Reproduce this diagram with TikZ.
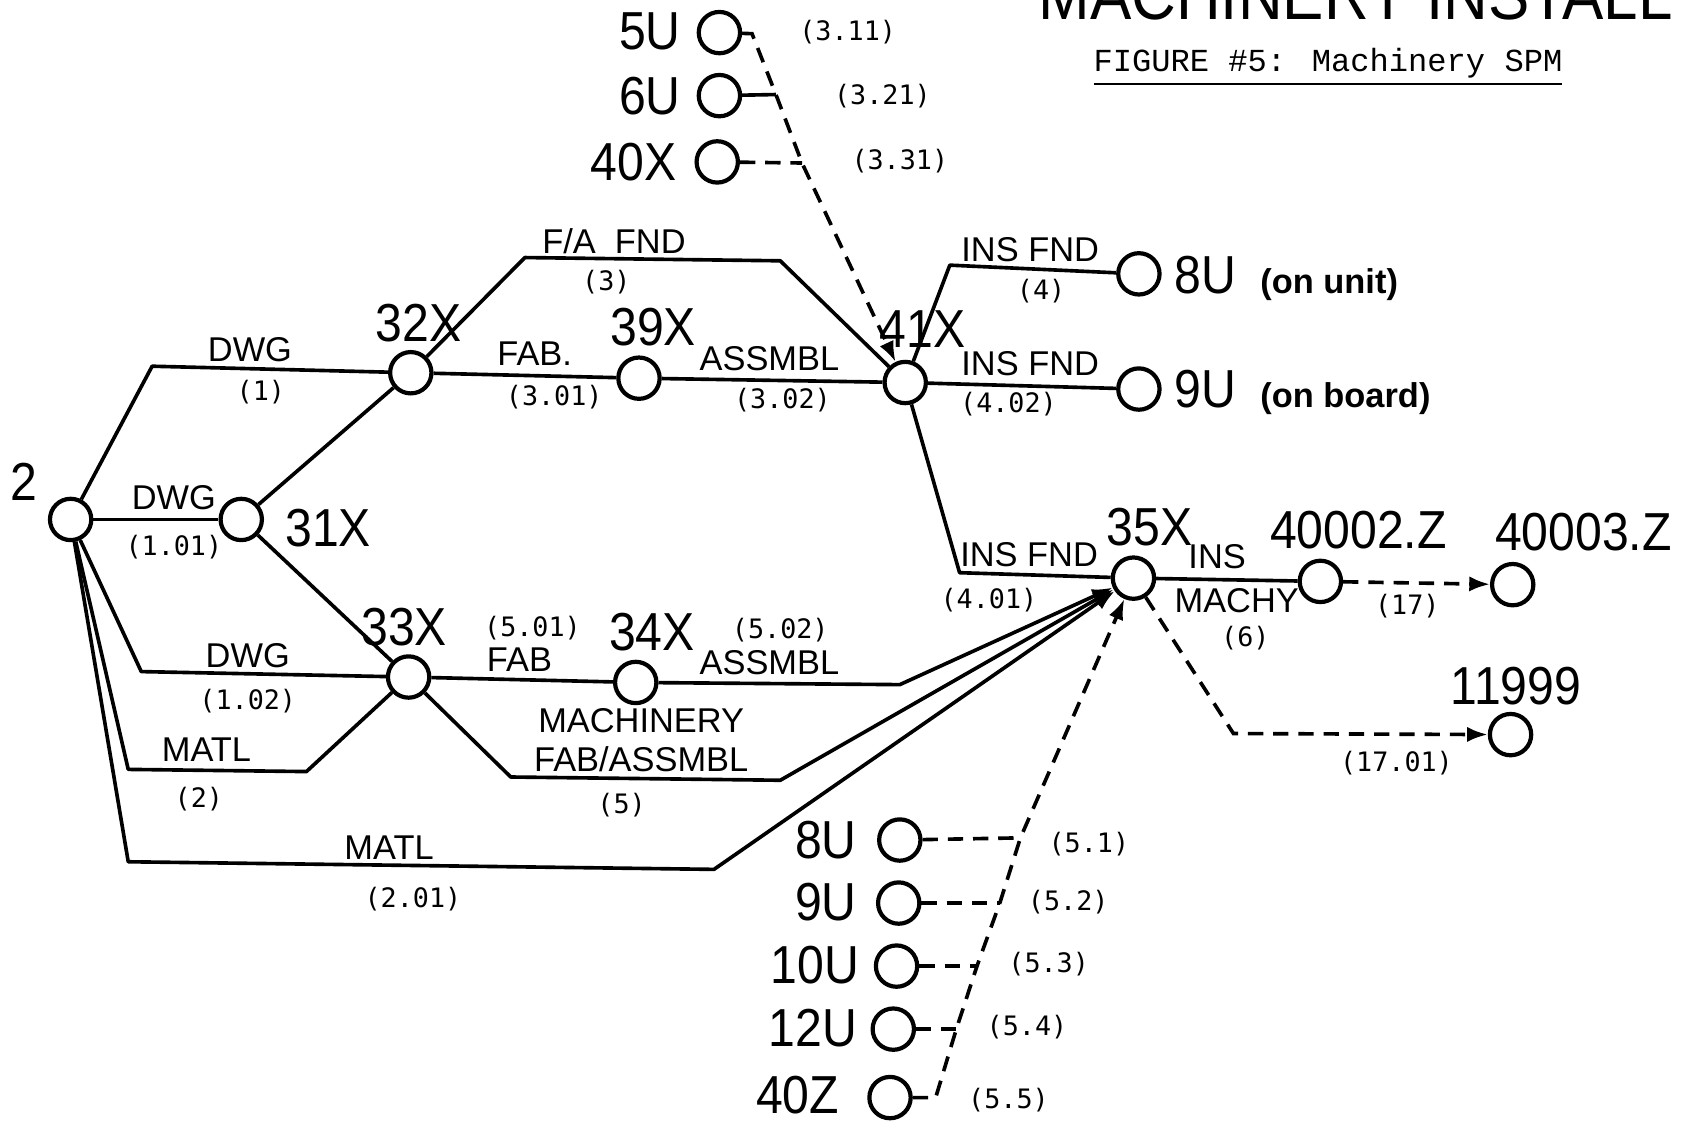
\documentclass[tikz,border=0pt]{standalone}
\usepackage{fontspec}
\setsansfont{Liberation Sans}
\newfontfamily\lettering[FakeStretch=0.9]{Liberation Sans}
\newfontfamily\typer{DejaVu Sans Mono}
\newfontfamily\titlefont{Liberation Mono}
\usetikzlibrary{arrows.meta}

\begin{document}
\begin{tikzpicture}[x=0.01cm, y=-0.01cm,
  event/.style={circle, draw, line width=1.1pt, minimum size=0.38cm, inner sep=0pt},
  act/.style={draw, line width=0.95pt, line join=round},
  dummy/.style={draw, line width=0.95pt, dash pattern=on 4pt off 2.6pt},
  tip/.style={-{Latex[length=1.9mm,width=1.4mm]}},
  big/.style={font=\lettering\fontsize{14}{14}\selectfont, inner sep=0pt},
  word/.style={font=\sffamily\fontsize{9}{9}\selectfont, inner sep=0pt},
  note/.style={font=\sffamily\bfseries\fontsize{9}{9}\selectfont, inner sep=0pt},
  num/.style={font=\typer\fontsize{7}{7}\selectfont, inner sep=0pt}
]
  \useasboundingbox (0,0) rectangle (1568,1031);

  % events
  \node[event] (n2) at (65,478) {};
  \node[event] (n31) at (222,478) {};
  \node[event] (n32) at (378,343) {};
  \node[event] (n39) at (588,348) {};
  \node[event] (n41) at (833,352) {};
  \node[event] (n33) at (376,623) {};
  \node[event] (n34) at (585,628) {};
  \node[event] (n35) at (1043,532) {};
  \node[event] (n8a) at (1048,252) {};
  \node[event] (n9a) at (1048,358) {};
  \node[event] (n40002) at (1215,535) {};
  \node[event] (n40003) at (1392,538) {};
  \node[event] (n11999) at (1390,676) {};
  \node[event] (n5U) at (662,30) {};
  \node[event] (n6U) at (662,88) {};
  \node[event] (n40X) at (660,149) {};
  \node[event] (n8U) at (828,773) {};
  \node[event] (n9U) at (827,831) {};
  \node[event] (n10U) at (825,889) {};
  \node[event] (n12U) at (822,947) {};
  \node[event] (n40Z) at (819,1010) {};

  % event numbers
  \node[big] (t2) at (22,443) {2};
  \node[big] (t31) at (302,486) {31X};
  \node[big] (t32) at (385,297) {32X};
  \node[big] (t39) at (601,301) {39X};
  \node[big] (t41) at (849,303) {41X};
  \node[big] (t33) at (372,577) {33X};
  \node[big] (t34) at (600,582) {34X};
  \node[big] (t35) at (1058,485) {35X};
  \node[big] (t40002) at (1250,488) {40002.Z};
  \node[big] (t40003) at (1457,490) {40003.Z};
  \node[big] (t11999) at (1395,631) {11999};
  \node[big] (t5U) at (598,29) {5U};
  \node[big] (t6U) at (598,88) {6U};
  \node[big] (t40X) at (583,149) {40X};
  \node[big] (t8U) at (760,773) {8U};
  \node[big] (t9U) at (760,830) {9U};
  \node[big] (t10U) at (750,888) {10U};
  \node[big] (t12U) at (748,946) {12U};
  \node[big] (t40Z) at (734,1008) {40Z};
  \node[big, anchor=west] (t8a) at (1080,253) {8U};
  \node[note, anchor=base west] (t8b) at ([xshift=6pt]t8a.base east) {(on unit)};
  \node[big, anchor=west] (t9a) at (1080,358) {9U};
  \node[note, anchor=base west] (t9b) at ([xshift=6pt]t9a.base east) {(on board)};

  % activities
  \draw[act] (n2) -- (140,337) -- (n32);
  \draw[act] (n2) -- (n31);
  \draw[act] (n31) -- (n32);
  \draw[act] (n31) -- (n33);
  \draw[act] (n2) -- (130,618) -- (n33);
  \draw[act] (n2) -- (118,708) -- (282,710) -- (n33);
  \draw[act, tip] (n2) -- (118,793) -- (657,800) -- (n35);
  \draw[act] (n32) -- (n39);
  \draw[act] (n39) -- (n41);
  \draw[act] (n32) -- (483,237) -- (718,240) -- (n41);
  \draw[act] (n41) -- (874,244) -- (n8a);
  \draw[act] (n41) -- (n9a);
  \draw[act] (n41) -- (883,527) -- (n35);
  \draw[act] (n33) -- (n34);
  \draw[act, tip] (n34) -- (828,630) -- (n35);
  \draw[act, tip] (n33) -- (470,715) -- (718,718) -- (n35);
  \draw[act] (n35) -- (n40002);
  \draw[dummy, tip] (n40002) -- (n40003);
  \draw[dummy, tip] (n35) -- (1135,675) -- (n11999);

  % dummies into 41X
  \coordinate (c1) at (692,31);
  \coordinate (c2) at (714,87);
  \coordinate (c3) at (738,150);
  \draw[dummy, tip] (n5U) -- (c1) -- (c2) -- (c3) -- (n41);
  \draw[act] (n6U) -- (c2);
  \draw[dummy] (n40X) -- (c3);

  % dummies into 35X
  \coordinate (s1) at (939,771);
  \coordinate (s2) at (920,831);
  \coordinate (s3) at (899,889);
  \coordinate (s4) at (880,947);
  \coordinate (s5) at (861,1010);
  \draw[dummy, tip] (n40Z) -- (s5) -- (s4) -- (s3) -- (s2) -- (s1) -- (n35);
  \draw[dummy] (n12U) -- (s4);
  \draw[dummy] (n10U) -- (s3);
  \draw[dummy] (n9U) -- (s2);
  \draw[dummy] (n8U) -- (s1);

  % activity names and codes
  \node[word] (w1) at (230,322) {DWG};
  \node[num] (k1) at (240,361) {(1)};
  \node[word] (w101) at (160,458) {DWG};
  \node[num] (k101) at (160,503) {(1.01)};
  \node[word] (w102) at (228,603) {DWG};
  \node[num] (k102) at (228,645) {(1.02)};
  \node[word] (w2) at (190,690) {MATL};
  \node[num] (k2) at (183,735) {(2)};
  \node[word] (w201) at (358,780) {MATL};
  \node[num] (k201) at (380,827) {(2.01)};
  \node[word] (w3) at (565,222) {F/A\ \ FND};
  \node[num] (k3) at (558,260) {(3)};
  \node[word] (w301) at (492,325) {FAB.};
  \node[num] (k301) at (510,365) {(3.01)};
  \node[word] (w302) at (708,330) {ASSMBL};
  \node[num] (k302) at (720,368) {(3.02)};
  \node[word] (w4) at (948,230) {INS FND};
  \node[num] (k4) at (958,268) {(4)};
  \node[word] (w402) at (948,335) {INS FND};
  \node[num] (k402) at (928,372) {(4.02)};
  \node[word] (w401) at (947,510) {INS FND};
  \node[num] (k401) at (910,552) {(4.01)};
  \node[num] (k501) at (490,578) {(5.01)};
  \node[word] (w501) at (478,607) {FAB};
  \node[num] (k502) at (718,580) {(5.02)};
  \node[word] (w502) at (708,610) {ASSMBL};
  \node[word, align=center] (w5) at (590,681) {MACHINERY\\[1pt]FAB/ASSMBL};
  \node[num] (k5) at (572,741) {(5)};
  \node[word] (w6a) at (1120,512) {INS};
  \node[word] (w6b) at (1138,553) {MACHY};
  \node[num] (k6) at (1146,587) {(6)};
  \node[num] (k17) at (1295,558) {(17)};
  \node[num] (k1701) at (1285,702) {(17.01)};
  \node[num] (k311) at (780,30) {(3.11)};
  \node[num] (k321) at (812,88) {(3.21)};
  \node[num] (k331) at (828,148) {(3.31)};
  \node[num] (k51) at (1002,777) {(5.1)};
  \node[num] (k52) at (983,830) {(5.2)};
  \node[num] (k53) at (965,887) {(5.3)};
  \node[num] (k54) at (945,945) {(5.4)};
  \node[num] (k55) at (928,1012) {(5.5)};

  % titles
  \node[font=\titlefont\fontsize{8.4}{8.4}\selectfont, inner sep=0pt] (title) at (1222,62) {\underline{FIGURE \#5: Machinery SPM}};
  \node[font=\lettering\fontsize{18}{18}\selectfont, inner sep=0pt, anchor=base east] (head) at (1540,18) {MACHINERY INSTALL};
\end{tikzpicture}
\end{document}
